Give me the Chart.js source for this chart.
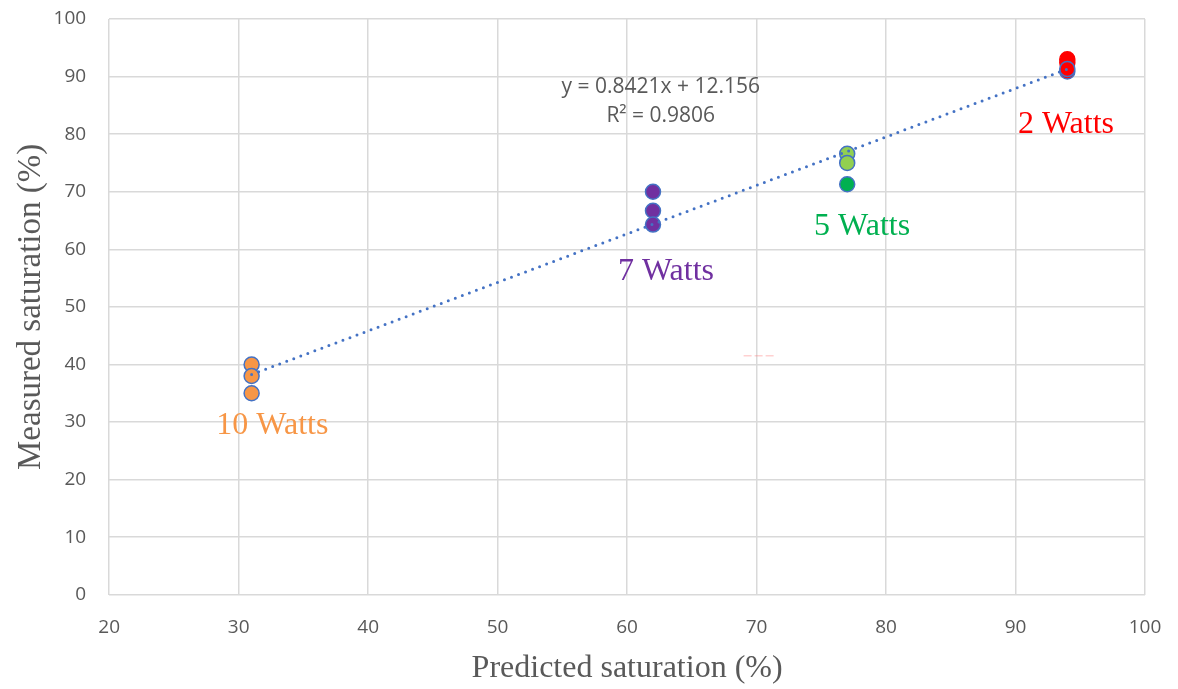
<!DOCTYPE html>
<html>
<head>
<meta charset="utf-8">
<script src="https://cdn.jsdelivr.net/npm/chart.js@4.4.0/dist/chart.umd.min.js"></script>
<style>
  html, body { margin: 0; padding: 0; background: #fff; }
  #wrap { width: 1178px; height: 689px; }
</style>
</head>
<body>
<div id="wrap"><canvas id="chart"></canvas></div>
<script>
const xTicks = [20, 30, 40, 50, 60, 70, 80, 90, 100];
const yTicks = [0, 10, 20, 30, 40, 50, 60, 70, 80, 90, 100];

const watts10 = [{ x: 31, y: 40 }, { x: 31, y: 38 }, { x: 31, y: 35 }];
const watts7 = [{ x: 62, y: 70 }, { x: 62, y: 66.7 }, { x: 62, y: 64.3 }];
const watts5light = [{ x: 77, y: 76.6 }, { x: 77, y: 75 }];
const watts5dark = [{ x: 77, y: 71.3 }];
const watts2ringed = [{ x: 94, y: 90.9 }, { x: 94, y: 91.3 }];
const watts2red = [{ x: 94, y: 92.4 }, { x: 94, y: 93 }];

const slope = 0.8421;
const intercept = 12.156;
const fitRange = [31, 94];
const trend = fitRange.map(x => ({ x: x, y: slope * x + intercept }));

const labels = [
  { text: "10 Watts", x: 32.6, y: 29.3, color: "#F79646" },
  { text: "7 Watts", x: 63.0, y: 56.2, color: "#7030A0" },
  { text: "5 Watts", x: 78.15, y: 63.9, color: "#00B050" },
  { text: "2 Watts", x: 93.9, y: 81.6, color: "#FF0000" }
];
const equation = ["y = 0.8421x + 12.156", "R\u00B2 = 0.9806"];

function pts(data, fill, border) {
  return {
    type: "scatter",
    data: data,
    backgroundColor: fill,
    borderColor: border || "#4472C4",
    borderWidth: 1.5,
    pointRadius: 7.5,
    pointHoverRadius: 7.5
  };
}

const textPlugin = {
  id: "textPlugin",
  afterDatasetsDraw(chart) {
    const { ctx, scales } = chart;
    ctx.save();
    ctx.textAlign = "center";
    ctx.textBaseline = "middle";
    ctx.font = "32px 'Liberation Serif', serif";
    labels.forEach(l => {
      ctx.fillStyle = l.color;
      ctx.fillText(l.text, scales.x.getPixelForValue(l.x), scales.y.getPixelForValue(l.y));
    });
    ctx.font = "21px 'Open Sans', sans-serif";
    ctx.fillStyle = "#595959";
    ctx.fillText(equation[0], scales.x.getPixelForValue(62.6), scales.y.getPixelForValue(88.2));
    ctx.fillText(equation[1], scales.x.getPixelForValue(62.6), scales.y.getPixelForValue(83.2));
    // faint red dash artifact
    ctx.strokeStyle = "rgba(255,120,120,0.5)";
    ctx.lineWidth = 1;
    ctx.setLineDash([8, 3]);
    ctx.beginPath();
    ctx.moveTo(scales.x.getPixelForValue(69), scales.y.getPixelForValue(41.5));
    ctx.lineTo(scales.x.getPixelForValue(71.4), scales.y.getPixelForValue(41.5));
    ctx.stroke();
    ctx.restore();
  }
};

new Chart(document.getElementById("chart"), {
  data: {
    datasets: [
      {
        type: "line",
        data: trend,
        borderColor: "#4472C4",
        borderWidth: 3,
        borderDash: [0, 7.5],
        borderCapStyle: "round",
        pointRadius: 0,
        fill: false
      },
      pts(watts10, "#F79646"),
      pts(watts7, "#7030A0"),
      pts(watts5light, "#92D050"),
      pts(watts5dark, "#00B050"),
      pts(watts2ringed, "#FF0000"),
      pts(watts2red, "#FF0000", "#FF0000")
    ]
  },
  options: {
    responsive: true,
    maintainAspectRatio: false,
    animation: false,
    layout: { padding: { top: 19, right: 33, bottom: 1, left: 8 } },
    plugins: {
      legend: { display: false },
      tooltip: { enabled: false }
    },
    scales: {
      x: {
        type: "linear",
        min: 20,
        max: 100,
        afterBuildTicks: axis => { axis.ticks = xTicks.map(v => ({ value: v })); },
        afterFit: axis => { axis.paddingLeft = 0; axis.paddingRight = 0; },
        grid: { color: "#D9D9D9", lineWidth: 1.5, drawTicks: false },
        border: { display: false },
        ticks: { color: "#595959", font: { size: 19, family: "'Open Sans', sans-serif" }, padding: 21 },
        title: {
          display: true,
          text: "Predicted saturation (%)",
          color: "#595959",
          font: { size: 32, family: "'Liberation Serif', serif" },
          padding: { top: -10, bottom: 0 }
        }
      },
      y: {
        type: "linear",
        min: 0,
        max: 100,
        afterBuildTicks: axis => { axis.ticks = yTicks.map(v => ({ value: v })); },
        afterFit: axis => { axis.paddingTop = 0; axis.paddingBottom = 0; },
        grid: { color: "#D9D9D9", lineWidth: 1.5, drawTicks: false },
        border: { display: false },
        ticks: { color: "#595959", font: { size: 19, family: "'Open Sans', sans-serif" }, padding: 23 },
        title: {
          display: true,
          text: "Measured saturation (%)",
          color: "#595959",
          font: { size: 33, family: "'Liberation Serif', serif" },
          padding: { top: 4, bottom: -21 }
        }
      }
    }
  },
  plugins: [textPlugin]
});
</script>
</body>
</html>
